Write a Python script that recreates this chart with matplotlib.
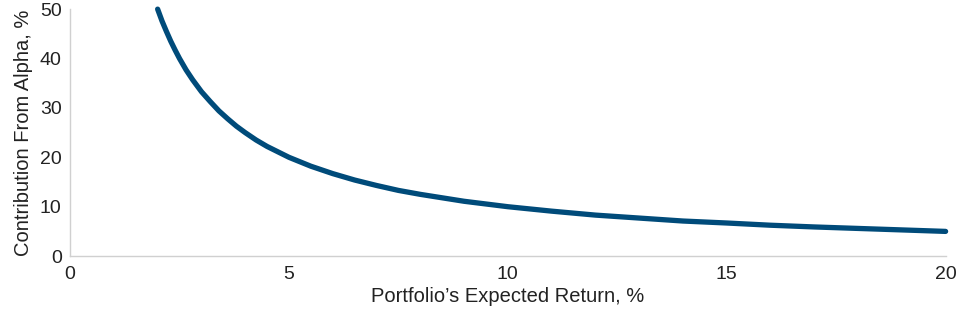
import matplotlib.pyplot as plt

plt.rcParams['font.family'] = ['Liberation Sans', 'DejaVu Sans']

# values
expected_return = [2, 2.1, 2.2, 2.3, 2.4, 2.5, 2.65, 2.8, 3, 3.2, 3.4, 3.6, 3.8, 4, 4.25, 4.5,
                   4.75, 5, 5.5, 6, 6.5, 7, 7.5, 8, 9, 10, 11, 12, 13, 14, 15, 16, 17, 18, 19, 20]
alpha_contrib = [50, 47.6, 45.5, 43.5, 41.7, 40, 37.7, 35.7, 33.3, 31.3, 29.4, 27.8, 26.3, 25,
                 23.5, 22.2, 21.1, 20, 18.2, 16.7, 15.4, 14.3, 13.3, 12.5, 11.1, 10, 9.1, 8.3,
                 7.7, 7.1, 6.7, 6.25, 5.9, 5.6, 5.3, 5]

fig = plt.figure(figsize=(9.6, 3.15), dpi=100)
ax = fig.add_axes([0.073, 0.187, 0.912, 0.784])

ax.plot(expected_return, alpha_contrib, color='#004B7A', linewidth=3.8,
        solid_capstyle='round', solid_joinstyle='round', clip_on=False)

ax.set_xlim(0, 20)
ax.set_ylim(0, 50)
ax.set_xticks([0, 5, 10, 15, 20])
ax.set_yticks([0, 10, 20, 30, 40, 50])
ax.tick_params(length=0, labelsize=14, colors='#222222', pad=7)
ax.tick_params(axis='y', pad=6)

for s in ['top', 'right']:
    ax.spines[s].set_visible(False)
for s in ['left', 'bottom']:
    ax.spines[s].set_color('#d0d0d0')
    ax.spines[s].set_linewidth(1)

ax.set_xlabel('Portfolio\u2019s Expected Return, %', fontsize=14.5, color='#222222', labelpad=3)
ax.set_ylabel('Contribution From Alpha, %', fontsize=14.5, color='#222222', labelpad=5)

fig.savefig('out.png', dpi=100)
